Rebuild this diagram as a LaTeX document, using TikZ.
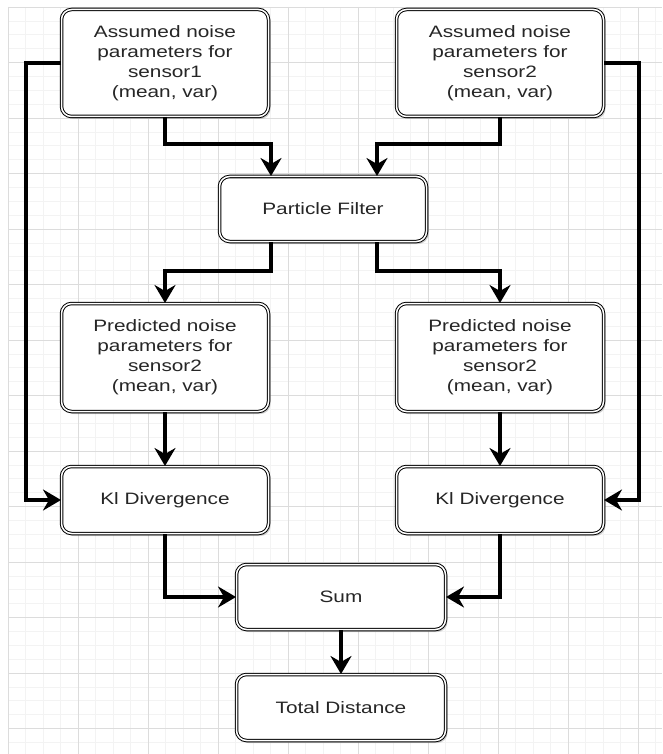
\documentclass[tikz,border=0pt]{standalone}
\usepackage{fontspec}
\setmainfont[FakeStretch=1.26]{Liberation Sans}
\usetikzlibrary{arrows.meta,shadows}

\definecolor{gridmajor}{HTML}{DCDCDC}
\definecolor{gridminor}{HTML}{F3F3F3}
\definecolor{textgray}{HTML}{262626}

\begin{document}
\begin{tikzpicture}[x=1pt,y=-1pt,
        box/.style={draw=black,double=white,double distance=1.5pt,line width=1pt,
            rounded corners=10pt,fill=white,align=center,text=textgray,
            font=\fontsize{16.5}{20}\selectfont,minimum width=207pt,
            drop shadow={shadow xshift=2pt,shadow yshift=-2.5pt,opacity=0.35}},
        flow/.style={line width=4.5pt,-{Stealth[length=18pt,width=21pt,inset=6pt]}}]

    \useasboundingbox (0,0) rectangle (662,754);

    % Grid
    \foreach \i in {0,...,37}
        \draw[gridminor,line width=0.6pt] ({8+17.5*\i},7) -- ({8+17.5*\i},754);
    \foreach \j in {0,...,53}
        \draw[gridminor,line width=0.6pt] (8,{7+13.875*\j}) -- (662,{7+13.875*\j});
    \foreach \i in {0,...,9}
        \draw[gridmajor,line width=0.8pt] ({8+70*\i},7) -- ({8+70*\i},754);
    \foreach \j in {0,...,13}
        \draw[gridmajor,line width=0.8pt] (8,{7+55.5*\j}) -- (662,{7+55.5*\j});

    % Assumed parameters
    \node[box,minimum height=107pt] (a1) at (165,63) {Assumed noise\\parameters for\\sensor1\\(mean, var)};
    \node[box,minimum height=107pt] (a2) at (500,63) {Assumed noise\\parameters for\\sensor2\\(mean, var)};

    % Filter
    \node[box,minimum height=65pt] (pf) at (323,209) {Particle Filter};

    % Predicted parameters
    \node[box,minimum height=108pt] (p1) at (165,357.5) {Predicted noise\\parameters for\\sensor2\\(mean, var)};
    \node[box,minimum height=108pt] (p2) at (500,357.5) {Predicted noise\\parameters for\\sensor2\\(mean, var)};

    % Divergences
    \node[box,minimum height=67pt] (k1) at (165,500) {Kl Divergence};
    \node[box,minimum height=67pt] (k2) at (500,500) {Kl Divergence};

    % Output
    \node[box,minimum height=65pt,minimum width=209pt] (sum) at (341,597) {Sum};
    \node[box,minimum height=66pt,minimum width=209pt] (total) at (341,707.5) {Total Distance};

    % Edges
    \draw[flow] (a1.south) -- ++(0,27) -| ([xshift=-52pt]pf.north);
    \draw[flow] (a2.south) -- ++(0,27) -| ([xshift=54pt]pf.north);
    \draw[flow] ([xshift=-52pt]pf.south) -- ++(0,29) -| (p1.north);
    \draw[flow] ([xshift=54pt]pf.south) -- ++(0,29) -| (p2.north);
    \draw[flow] (p1) -- (k1);
    \draw[flow] (p2) -- (k2);
    \draw[flow] (a1.west) -- ++(-35,0) |- (k1.west);
    \draw[flow] (a2.east) -- ++(35,0) |- (k2.east);
    \draw[flow] (k1.south) |- (sum.west);
    \draw[flow] (k2.south) |- (sum.east);
    \draw[flow] (sum) -- (total);
\end{tikzpicture}
\end{document}
